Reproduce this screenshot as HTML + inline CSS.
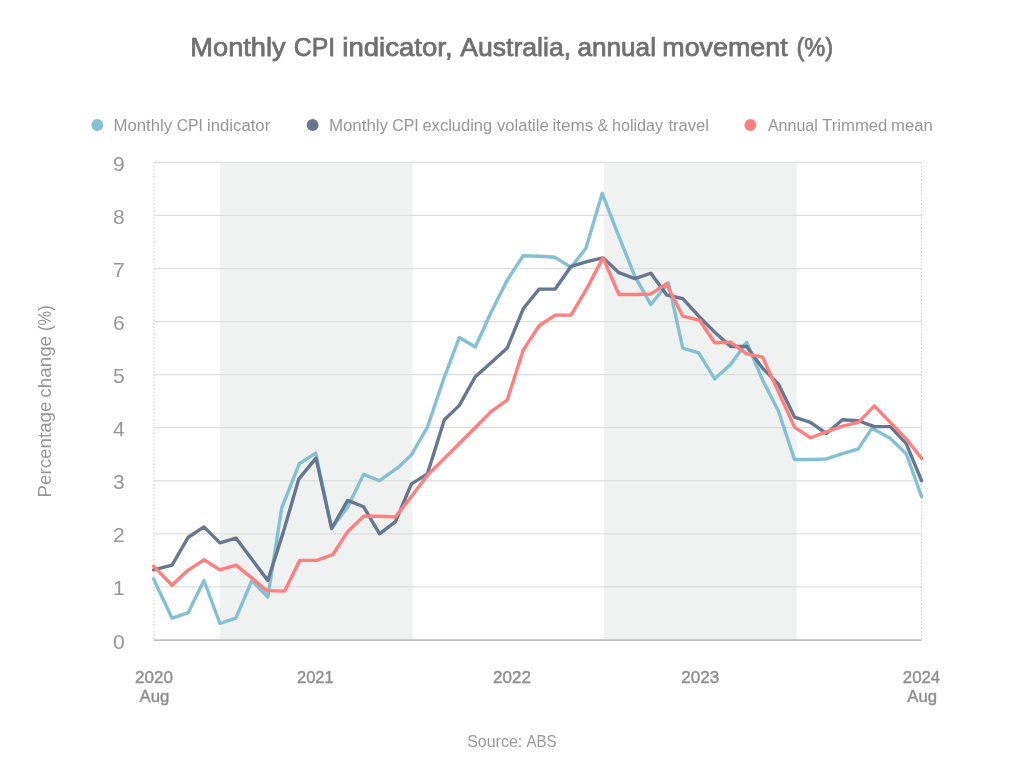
<!DOCTYPE html>
<html lang="en">
<head>
<meta charset="utf-8">
<title>Monthly CPI indicator, Australia, annual movement (%)</title>
<style>
html,body{margin:0;padding:0;background:#fff;}
body{width:1024px;height:768px;overflow:hidden;}
svg{display:block;}
text{font-family:"Liberation Sans",sans-serif;}
</style>
</head>
<body>
<svg width="1024" height="768" viewBox="0 0 1024 768">
<rect x="0" y="0" width="1024" height="768" fill="#ffffff"/>
<rect x="220.00" y="162.30" width="192.40" height="477.65" fill="#f0f2f1"/>
<rect x="604.00" y="162.30" width="192.75" height="477.65" fill="#f0f2f1"/>
<line x1="154.00" x2="921.70" y1="586.93" y2="586.93" stroke="#dddddd" stroke-width="1.25"/>
<line x1="154.00" x2="921.70" y1="533.86" y2="533.86" stroke="#dddddd" stroke-width="1.25"/>
<line x1="154.00" x2="921.70" y1="480.79" y2="480.79" stroke="#dddddd" stroke-width="1.25"/>
<line x1="154.00" x2="921.70" y1="427.72" y2="427.72" stroke="#dddddd" stroke-width="1.25"/>
<line x1="154.00" x2="921.70" y1="374.65" y2="374.65" stroke="#dddddd" stroke-width="1.25"/>
<line x1="154.00" x2="921.70" y1="321.58" y2="321.58" stroke="#dddddd" stroke-width="1.25"/>
<line x1="154.00" x2="921.70" y1="268.51" y2="268.51" stroke="#dddddd" stroke-width="1.25"/>
<line x1="154.00" x2="921.70" y1="215.44" y2="215.44" stroke="#dddddd" stroke-width="1.25"/>
<line x1="154.00" x2="921.70" y1="162.37" y2="162.37" stroke="#dddddd" stroke-width="1.25"/>
<line x1="154" x2="154" y1="162.30" y2="639.95" stroke="#e2e2e2" stroke-width="1.7" stroke-dasharray="1.7 1.72"/>
<line x1="921.5" x2="921.5" y1="162.30" y2="639.95" stroke="#d2d2d2" stroke-width="1" stroke-dasharray="1.7 1.72"/>
<line x1="154" x2="921.5" y1="640" y2="640" stroke="#bebebe" stroke-width="1.75"/>
<path d="M153.60 578.92 L172.06 618.19 L188.02 612.88 L203.98 580.51 L219.94 623.50 L235.90 618.19 L251.86 580.51 L267.82 596.96 L281.78 507.81 L299.24 463.76 L315.70 453.14 L331.66 528.50 L347.62 507.28 L363.58 474.37 L379.54 480.74 L398.80 466.94 L411.46 454.74 L427.42 427.14 L443.38 379.91 L459.34 337.45 L475.30 347.00 L491.26 311.98 L507.22 280.14 L523.18 255.72 L539.14 256.25 L555.10 257.32 L571.06 267.40 L585.92 248.29 L602.18 193.36 L618.94 236.62 L634.90 276.42 L650.86 304.55 L668.42 282.79 L682.78 348.07 L698.74 352.84 L714.70 378.85 L730.66 364.52 L746.62 342.23 L762.58 379.91 L778.54 411.22 L794.50 459.51 L810.46 459.51 L826.42 458.98 L842.38 453.67 L858.34 448.90 L871.90 428.20 L890.26 438.28 L906.22 453.67 L921.60 496.66" fill="none" stroke="#84c0d3" stroke-width="3.4" stroke-linejoin="round" stroke-linecap="round"/>
<path d="M153.60 569.90 L172.06 565.12 L188.02 537.52 L203.98 526.91 L219.94 542.83 L235.90 538.06 L251.86 559.28 L267.82 580.51 L283.78 530.63 L298.74 479.15 L316.00 458.19 L331.66 528.50 L347.62 500.38 L363.58 506.74 L379.54 533.81 L395.50 521.60 L411.46 483.92 L427.42 473.84 L444.38 419.71 L459.34 405.38 L475.30 376.72 L491.26 362.39 L507.22 348.07 L523.18 308.79 L539.14 289.16 L555.10 289.16 L571.06 266.34 L587.02 261.56 L602.98 257.85 L618.94 272.71 L634.90 278.54 L650.86 273.24 L666.82 295.00 L682.78 298.71 L698.74 316.22 L714.70 332.14 L730.66 346.47 L746.62 346.47 L762.58 368.23 L778.54 384.15 L794.50 417.06 L810.46 422.36 L826.42 433.51 L842.38 419.71 L858.34 420.77 L874.30 426.61 L890.26 426.61 L906.22 443.59 L921.60 480.74" fill="none" stroke="#66778f" stroke-width="3.4" stroke-linejoin="round" stroke-linecap="round"/>
<path d="M153.60 566.18 L172.06 585.29 L187.02 570.93 L203.98 559.81 L219.94 569.90 L235.90 565.12 L251.86 577.86 L266.52 590.59 L284.58 591.13 L299.74 560.35 L316.50 560.35 L332.86 554.51 L347.62 531.69 L363.58 516.30 L379.54 516.30 L395.50 516.83 L411.46 496.50 L427.42 475.27 L443.38 459.35 L459.34 443.43 L475.30 427.51 L491.26 411.39 L507.22 400.07 L523.18 350.19 L539.14 325.78 L555.10 315.16 L571.06 315.16 L587.02 288.10 L602.98 257.85 L618.94 294.46 L634.90 294.46 L650.86 293.93 L666.22 283.85 L682.78 316.22 L699.74 320.47 L714.70 342.76 L730.66 342.23 L746.62 353.90 L762.58 357.09 L778.54 392.11 L794.50 427.14 L810.46 437.75 L826.42 431.92 L842.38 426.08 L858.34 422.36 L874.30 405.91 L890.26 422.36 L906.22 438.81 L921.60 458.45" fill="none" stroke="#ff7f7f" stroke-width="3.4" stroke-linejoin="round" stroke-linecap="round"/>
<text y="56.05" font-size="25.90" fill="#707070" stroke="#707070" stroke-width="0.75"><tspan x="190.30" textLength="95.36" lengthAdjust="spacingAndGlyphs">Monthly</tspan> <tspan x="293.70" textLength="41.45" lengthAdjust="spacingAndGlyphs">CPI</tspan> <tspan x="342.25" textLength="110.39" lengthAdjust="spacingAndGlyphs">indicator,</tspan> <tspan x="460.25" textLength="110.85" lengthAdjust="spacingAndGlyphs">Australia,</tspan> <tspan x="577.43" textLength="78.55" lengthAdjust="spacingAndGlyphs">annual</tspan> <tspan x="662.27" textLength="125.39" lengthAdjust="spacingAndGlyphs">movement</tspan> <tspan x="796.38" textLength="36.77" lengthAdjust="spacingAndGlyphs">(%)</tspan></text>
<circle cx="97.25" cy="125" r="5.95" fill="#84c0d3"/>
<text y="130.90" font-size="17.30" fill="#969696"><tspan x="113.45" textLength="58.59" lengthAdjust="spacingAndGlyphs">Monthly</tspan> <tspan x="176.70" textLength="26.27" lengthAdjust="spacingAndGlyphs">CPI</tspan> <tspan x="207.10" textLength="63.11" lengthAdjust="spacingAndGlyphs">indicator</tspan></text>
<circle cx="312.60" cy="125" r="5.95" fill="#66778f"/>
<text y="130.90" font-size="17.30" fill="#969696"><tspan x="328.90" textLength="59.08" lengthAdjust="spacingAndGlyphs">Monthly</tspan> <tspan x="392.20" textLength="26.50" lengthAdjust="spacingAndGlyphs">CPI</tspan> <tspan x="422.43" textLength="69.83" lengthAdjust="spacingAndGlyphs">excluding</tspan> <tspan x="496.90" textLength="51.90" lengthAdjust="spacingAndGlyphs">volatile</tspan> <tspan x="552.38" textLength="40.80" lengthAdjust="spacingAndGlyphs">items</tspan> <tspan x="597.42" textLength="10.42" lengthAdjust="spacingAndGlyphs">&amp;</tspan> <tspan x="612.00" textLength="51.11" lengthAdjust="spacingAndGlyphs">holiday</tspan> <tspan x="668.40" textLength="40.61" lengthAdjust="spacingAndGlyphs">travel</tspan></text>
<circle cx="750.35" cy="125" r="5.95" fill="#ff7f7f"/>
<text y="130.90" font-size="17.30" fill="#969696"><tspan x="767.90" textLength="49.88" lengthAdjust="spacingAndGlyphs">Annual</tspan> <tspan x="822.07" textLength="65.36" lengthAdjust="spacingAndGlyphs">Trimmed</tspan> <tspan x="891.12" textLength="41.77" lengthAdjust="spacingAndGlyphs">mean</tspan></text>
<text x="124.6" y="648.50" font-size="21" fill="#969696" text-anchor="end">0</text>
<text x="124.6" y="595.43" font-size="21" fill="#969696" text-anchor="end">1</text>
<text x="124.6" y="542.36" font-size="21" fill="#969696" text-anchor="end">2</text>
<text x="124.6" y="489.29" font-size="21" fill="#969696" text-anchor="end">3</text>
<text x="124.6" y="436.22" font-size="21" fill="#969696" text-anchor="end">4</text>
<text x="124.6" y="383.15" font-size="21" fill="#969696" text-anchor="end">5</text>
<text x="124.6" y="330.08" font-size="21" fill="#969696" text-anchor="end">6</text>
<text x="124.6" y="277.01" font-size="21" fill="#969696" text-anchor="end">7</text>
<text x="124.6" y="223.94" font-size="21" fill="#969696" text-anchor="end">8</text>
<text x="124.6" y="170.87" font-size="21" fill="#969696" text-anchor="end">9</text>
<text transform="rotate(-90)" y="51.00" font-size="19.20" fill="#969696"><tspan x="-497.52" textLength="95.99" lengthAdjust="spacingAndGlyphs">Percentage</tspan> <tspan x="-397.72" textLength="61.82" lengthAdjust="spacingAndGlyphs">change</tspan> <tspan x="-330.96" textLength="25.56" lengthAdjust="spacingAndGlyphs">(%)</tspan></text>
<text y="682.70" font-size="16.00" fill="#8e8e8e" stroke="#8e8e8e" stroke-width="0.40"><tspan x="135.08" textLength="37.88" lengthAdjust="spacingAndGlyphs">2020</tspan> <tspan x="139.60" y="702.10" textLength="29.67" lengthAdjust="spacingAndGlyphs">Aug</tspan></text>
<text y="682.70" font-size="16.00" fill="#8e8e8e" stroke="#8e8e8e" stroke-width="0.40"><tspan x="297.05" textLength="36.65" lengthAdjust="spacingAndGlyphs">2021</tspan></text>
<text y="682.70" font-size="16.00" fill="#8e8e8e" stroke="#8e8e8e" stroke-width="0.40"><tspan x="493.07" textLength="37.88" lengthAdjust="spacingAndGlyphs">2022</tspan></text>
<text y="682.70" font-size="16.00" fill="#8e8e8e" stroke="#8e8e8e" stroke-width="0.40"><tspan x="681.32" textLength="37.88" lengthAdjust="spacingAndGlyphs">2023</tspan></text>
<text y="682.70" font-size="16.00" fill="#8e8e8e" stroke="#8e8e8e" stroke-width="0.40"><tspan x="902.80" textLength="37.42" lengthAdjust="spacingAndGlyphs">2024</tspan> <tspan x="907.35" y="702.10" textLength="29.66" lengthAdjust="spacingAndGlyphs">Aug</tspan></text>
<text y="746.80" font-size="16.60" fill="#999999"><tspan x="467.20" textLength="55.01" lengthAdjust="spacingAndGlyphs">Source:</tspan> <tspan x="526.38" textLength="30.15" lengthAdjust="spacingAndGlyphs">ABS</tspan></text>
</svg>
</body>
</html>
